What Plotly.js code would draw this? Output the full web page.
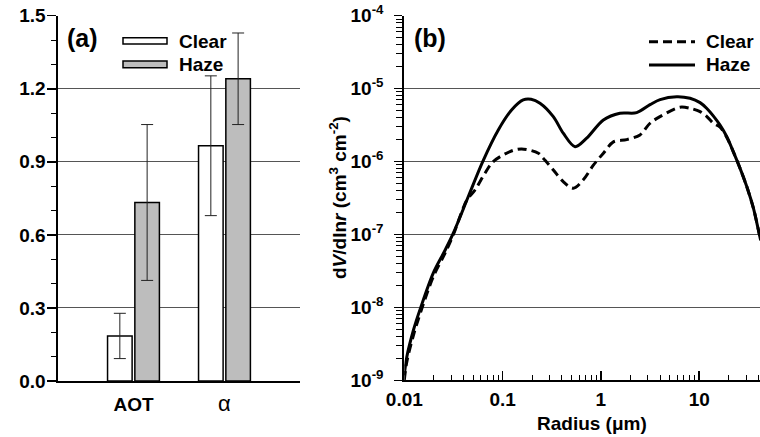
<!DOCTYPE html>
<html><head><meta charset="utf-8">
<script src="https://cdn.plot.ly/plotly-3.0.1.min.js"></script>
<style>html,body{margin:0;padding:0;background:#fff}#chart{width:760px;height:437px}</style>
</head><body><div id="chart"></div>
<script>
// ---- Panel (a) data ----
const categories = ['AOT', 'α'];
const categoryLabels = ['<b>AOT</b>', '<span style="font-size:22px">α</span>'];
const clearMean = [0.185, 0.966];
const clearErr = [0.093, 0.287];
const hazeMean = [0.733, 1.241];
const hazeErr = [0.32, 0.188];
const yTicksA = [0, 0.3, 0.6, 0.9, 1.2, 1.5];

// ---- Panel (b) data (radius in µm, dV/dlnr in cm3 cm-2) ----
const radiusHaze = [0.0100, 0.0106, 0.0124, 0.0147, 0.0197, 0.0259, 0.0316, 0.0448, 0.0628, 0.0904,
  0.124, 0.162, 0.195, 0.240, 0.328, 0.414, 0.546, 0.716, 1.06, 1.56, 2.31, 3.16, 4.0, 5.90, 8.07,
  10.2, 11.9, 13.9, 16.3, 19.1, 22.2, 26.0, 30.4, 35.6, 39.9, 42.2];
const dvHaze = [1.17e-9, 2.09e-9, 4.90e-9, 1.00e-8, 2.95e-8, 6.03e-8, 1.05e-7, 3.31e-7, 1.00e-6, 2.71e-6,
  5.13e-6, 7.00e-6, 7.14e-6, 6.31e-6, 4.13e-6, 2.45e-6, 1.60e-6, 2.09e-6, 3.72e-6, 4.60e-6, 4.68e-6, 6.03e-6, 7.08e-6, 7.76e-6, 7.38e-6,
  6.43e-6, 5.38e-6, 4.23e-6, 3.16e-6, 2.19e-6, 1.37e-6, 8.13e-7, 4.57e-7, 2.29e-7, 1.17e-7, 8.3e-8];
const radiusClear = [0.0100, 0.0106, 0.0124, 0.0147, 0.0197, 0.0259, 0.0316, 0.0432, 0.0524, 0.0662, 0.0804,
  0.119, 0.156, 0.231, 0.259, 0.328, 0.414, 0.524, 0.662, 0.838, 1.06, 1.34, 1.83, 2.50, 3.16, 3.99,
  6.38, 8.07, 10.2, 11.9, 13.9, 16.3, 19.1, 22.2, 26.0, 30.4, 35.6, 39.9, 42.2];
const dvClear = [1.00e-9, 1.78e-9, 4.17e-9, 8.71e-9, 2.63e-8, 5.50e-8, 1.00e-7, 2.95e-7, 4.07e-7, 6.92e-7, 1.00e-6,
  1.37e-6, 1.49e-6, 1.30e-6, 1.11e-6, 7.67e-7, 5.30e-7, 4.31e-7, 5.62e-7, 8.91e-7, 1.30e-6, 1.86e-6, 2.00e-6, 2.32e-6, 3.35e-6, 4.13e-6,
  5.56e-6, 5.37e-6, 4.84e-6, 4.17e-6, 3.35e-6, 2.95e-6, 2.14e-6, 1.37e-6, 8.13e-7, 4.57e-7, 2.29e-7, 1.17e-7, 8.3e-8];
const yTicksB = [1e-9, 1e-8, 1e-7, 1e-6, 1e-5, 1e-4];
const yTickTextB = ['10<sup>-9</sup>', '10<sup>-8</sup>', '10<sup>-7</sup>', '10<sup>-6</sup>', '10<sup>-5</sup>', '10<sup>-4</sup>'];
const xTicksB = [0.01, 0.1, 1, 10];
const xTickTextB = ['0.01', '0.1', '1', '10'];

// minor tick positions for the log axes
const yMinorB = [], xMinorB = [];
for (let e = -9; e < -4; e++) for (let m = 2; m <= 9; m++) yMinorB.push(m * Math.pow(10, e));
for (let e = -2; e < 2; e++) for (let m = 2; m <= 9; m++) { const v = m * Math.pow(10, e); if (v < 41) xMinorB.push(v); }

const W = 760, H = 437;
const px = x => x / W, py = y => 1 - y / H;
const FONT = 'Liberation Sans, Arial, sans-serif';
const FS = 19;

const traces = [
  { type: 'bar', name: 'Clear', x: categories, y: clearMean, xaxis: 'x', yaxis: 'y',
    marker: { color: '#ffffff', line: { color: '#000', width: 1.5 } },
    error_y: { type: 'data', array: clearErr, visible: true, color: '#222', thickness: 1, width: 6 } },
  { type: 'bar', name: 'Haze', x: categories, y: hazeMean, xaxis: 'x', yaxis: 'y',
    marker: { color: '#bdbdbd', line: { color: '#000', width: 1.5 } },
    error_y: { type: 'data', array: hazeErr, visible: true, color: '#222', thickness: 1, width: 6 } },
  { type: 'scatter', mode: 'lines', name: 'Clear', x: radiusClear, y: dvClear, xaxis: 'x2', yaxis: 'y2',
    line: { color: '#000', width: 3, dash: '9px,5px', shape: 'spline', smoothing: 0.9 } },
  { type: 'scatter', mode: 'lines', name: 'Haze', x: radiusHaze, y: dvHaze, xaxis: 'x2', yaxis: 'y2',
    line: { color: '#000', width: 3, shape: 'spline', smoothing: 0.9 } }
];

const tickFont = { family: FONT, size: FS, color: '#000', weight: 'bold' };
const ann = (text, x, y, size, extra) => Object.assign({ text, xref: 'paper', yref: 'paper', x: px(x), y: py(y),
  xanchor: 'center', yanchor: 'middle', showarrow: false, font: { family: FONT, size, color: '#000' } }, extra || {});

const layout = {
  width: W, height: H, margin: { l: 0, r: 0, t: 0, b: 0 },
  paper_bgcolor: '#fff', plot_bgcolor: '#fff', showlegend: false,
  barmode: 'group', bargap: 0.4, bargroupgap: 0.1,
  font: { family: FONT, color: '#000' },
  xaxis: {
    domain: [px(57.5), px(300)], anchor: 'y', type: 'category', range: [-0.835, 1.83],
    tickmode: 'array', tickvals: categories, ticktext: categoryLabels,
    tickfont: { family: FONT, size: FS, color: '#000' }, ticks: '', ticklabelstandoff: 5,
    showline: true, linecolor: '#000', linewidth: 2, showgrid: false, zeroline: false
  },
  yaxis: {
    domain: [py(381), py(15.7)], anchor: 'x', range: [0, 1.5], tickmode: 'array', tickvals: yTicksA,
    tickformat: '.1f', tickfont: tickFont, ticks: 'outside', ticklen: 9, tickwidth: 1.5, tickcolor: '#000',
    ticklabelstandoff: -3,
    showline: true, linecolor: '#000', linewidth: 2, showgrid: true, gridcolor: '#555', gridwidth: 1,
    zeroline: false,
    minor: { dtick: 0.1, ticks: 'outside', ticklen: 5, tickwidth: 1, tickcolor: '#000', showgrid: false }
  },
  xaxis2: {
    domain: [px(404.3), 1], anchor: 'y2', type: 'log', range: [-2, 1.6185],
    tickmode: 'array', tickvals: xTicksB, ticktext: xTickTextB, tickfont: tickFont,
    ticks: 'inside', ticklen: 9, tickwidth: 1.5, tickcolor: '#000', ticklabelstandoff: 1,
    minor: { tickmode: 'array', tickvals: xMinorB, ticks: 'inside', ticklen: 5, tickwidth: 1, tickcolor: '#000', showgrid: false },
    showline: true, linecolor: '#000', linewidth: 2, showgrid: false, zeroline: false
  },
  yaxis2: {
    domain: [py(380.3), py(15.7)], anchor: 'x2', type: 'log', range: [-9, -4],
    tickmode: 'array', tickvals: yTicksB, ticktext: yTickTextB, tickfont: tickFont,
    ticks: 'outside', ticklen: 8, tickwidth: 1.5, tickcolor: '#000', ticklabelstandoff: 7,
    minor: { tickmode: 'array', tickvals: yMinorB, ticks: 'outside', ticklen: 6, tickwidth: 1, tickcolor: '#000', showgrid: false },
    showline: true, linecolor: '#000', linewidth: 2, showgrid: true, gridcolor: '#555', gridwidth: 1, zeroline: false
  },
  shapes: [
    // legend (a)
    { type: 'rect', xref: 'paper', yref: 'paper', x0: px(123), x1: px(167), y0: py(44), y1: py(37.7),
      fillcolor: '#fff', line: { color: '#000', width: 1.5 } },
    { type: 'rect', xref: 'paper', yref: 'paper', x0: px(123), x1: px(167), y0: py(67.7), y1: py(61),
      fillcolor: '#bdbdbd', line: { color: '#000', width: 1.5 } },
    // legend (b)
    { type: 'line', xref: 'paper', yref: 'paper', x0: px(649), x1: px(695), y0: py(41.7), y1: py(41.7),
      line: { color: '#000', width: 3, dash: '9px,5px' } },
    { type: 'line', xref: 'paper', yref: 'paper', x0: px(649), x1: px(695), y0: py(65), y1: py(65),
      line: { color: '#000', width: 3 } }
  ],
  annotations: [
    ann('<b>(a)</b>', 82, 38, 25),
    ann('<b>(b)</b>', 430, 38, 25),
    ann('<b>Clear</b>', 177, 41, FS, { xanchor: 'left' }),
    ann('<b>Haze</b>', 177, 64.5, FS, { xanchor: 'left' }),
    ann('<b>Clear</b>', 704, 41.5, FS, { xanchor: 'left' }),
    ann('<b>Haze</b>', 704, 65, FS, { xanchor: 'left' }),
    ann('<b>d<i>V</i>/dln<i>r</i> (cm<sup>3</sup> cm<sup>-2</sup>)</b>', 338, 198, FS, { textangle: -90 }),
    ann('<b>Radius (μm)</b>', 592, 423, FS)
  ]
};

Plotly.newPlot('chart', traces, layout, { displayModeBar: false, staticPlot: true });
</script>
</body></html>
